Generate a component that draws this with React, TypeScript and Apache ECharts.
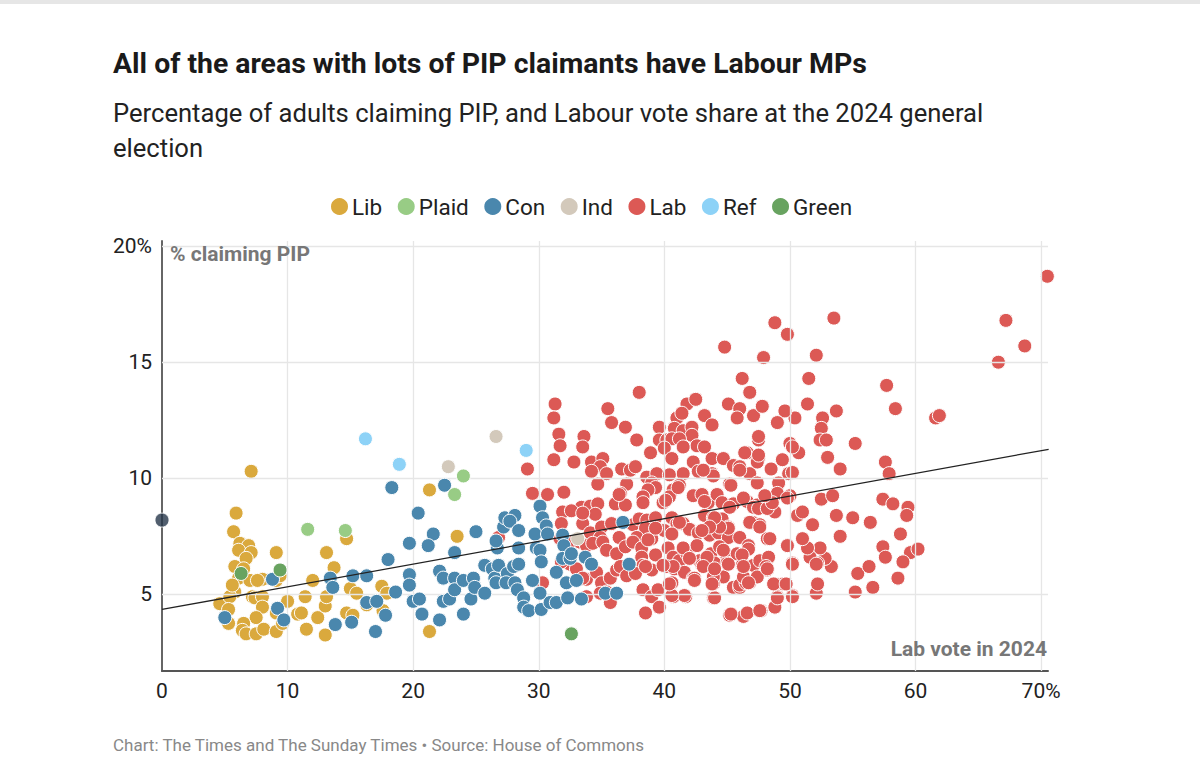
import React, { useEffect, useRef } from "react";
import * as echarts from "echarts";

const TITLE = "All of the areas with lots of PIP claimants have Labour MPs";
const SUBTITLE = "Percentage of adults claiming PIP, and Labour vote share at the 2024 general\nelection";
const FOOTER = "Chart: The Times and The Sunday Times \u2022 Source: House of Commons";
const Y_NAME = "% claiming PIP";
const X_NAME = "Lab vote in 2024";

const LEGEND_ORDER = ["Lib", "Plaid", "Con", "Ind", "Lab", "Ref", "Green"];
const X_TICKS = [0, 10, 20, 30, 40, 50, 60, 70];
const Y_TICKS = [5, 10, 15, 20];
const GRID_X = [10, 20, 30, 40, 50, 60, 70];
const GRID_Y = [5, 10, 15, 20];

const TREND_X = [0, 70.6];
const TREND_Y = [4.35, 11.25];

const SPEAKER = [[0, 8.2]];

const LIB = [
  [7.1, 10.3], [5.9, 8.5], [5.7, 7.7], [6.2, 7.2], [6.9, 7.1], [6.1, 6.9], [7.1, 6.8], [6.7, 6.55],
  [9.1, 6.8], [5.8, 6.2], [6.5, 6.1], [6.1, 5.7], [7.0, 5.6], [8.0, 5.65], [5.8, 5.1], [4.6, 4.6],
  [5.4, 4.9], [5.3, 4.35], [5.3, 3.75], [7.2, 4.9], [7.4, 4.85], [8.0, 4.9], [8.0, 4.45], [7.5, 4.0],
  [6.5, 3.75], [6.4, 3.45], [6.7, 3.3], [7.5, 3.3], [8.1, 3.5], [9.1, 3.4], [9.1, 4.2], [9.6, 3.75],
  [10.0, 4.7], [10.8, 4.15], [11.1, 4.2], [11.4, 4.9], [11.5, 3.5], [12.0, 5.6], [12.4, 4.0], [13.0, 4.5],
  [13.1, 4.9], [13.1, 6.8], [13.7, 6.15], [13.0, 3.25], [14.7, 7.4], [15.0, 5.25], [15.5, 5.05], [14.7, 4.2],
  [15.2, 4.1], [17.5, 5.35], [17.9, 5.05], [16.3, 4.55], [17.6, 4.3], [9.1, 5.6], [21.3, 9.5], [23.5, 7.5],
  [21.3, 3.4], [9.4, 5.8], [5.6, 5.4], [7.6, 5.6],
];

const PLAID = [[11.6, 7.8], [14.6, 7.75], [24.0, 10.1], [23.3, 9.3]];
const GREEN = [[6.3, 5.9], [9.4, 6.05], [32.6, 3.3]];
const REF = [[16.2, 11.7], [18.9, 10.6], [29.0, 11.2]];
const IND = [[26.6, 11.8], [22.8, 10.5], [33.1, 7.4]];

const CON = [
  [5.0, 4.0], [8.8, 5.65], [9.2, 4.4], [9.7, 3.9], [13.4, 5.7], [13.6, 5.3], [13.8, 3.7], [15.1, 3.8],
  [15.2, 5.8], [16.3, 5.8], [16.3, 4.65], [17.1, 4.7], [17.8, 4.1], [17.0, 3.4], [18.0, 6.5], [18.3, 9.6],
  [18.6, 5.1], [20.4, 8.5], [22.5, 9.7], [21.6, 7.6], [21.2, 7.1], [19.7, 7.2], [19.7, 5.85], [19.7, 5.4],
  [20.0, 4.7], [20.5, 4.8], [20.7, 4.15], [22.1, 3.9], [22.4, 4.7], [22.9, 4.8], [22.1, 6.0], [22.4, 5.7],
  [23.3, 5.7], [23.3, 6.8], [23.3, 5.2], [24.0, 5.6], [24.0, 4.15], [24.6, 4.8], [24.8, 5.7], [24.9, 5.3],
  [25.0, 7.7], [25.7, 5.05], [25.7, 6.25], [26.3, 6.1], [26.5, 5.7], [26.6, 5.5], [26.8, 6.25], [26.7, 7.0],
  [26.6, 7.3], [27.2, 7.9], [27.3, 8.3], [28.1, 8.4], [27.7, 8.15], [27.5, 5.9], [27.4, 5.5], [28.0, 6.2],
  [28.1, 5.5], [28.3, 5.2], [28.4, 7.75], [28.4, 7.0], [28.4, 6.3], [28.8, 4.85], [28.8, 4.45], [29.2, 4.3],
  [29.5, 5.6], [29.7, 7.6], [29.8, 7.0], [30.1, 6.9], [30.2, 6.4], [30.1, 5.05], [30.2, 4.35], [30.1, 8.8],
  [30.3, 8.3], [30.6, 7.95], [30.7, 7.6], [30.9, 4.65], [31.4, 4.65], [31.4, 5.95], [31.9, 7.55], [32.0, 7.1],
  [32.2, 5.5], [32.3, 4.85], [31.9, 6.55], [32.5, 6.55], [32.6, 6.75], [33.0, 5.6], [33.4, 4.8], [33.7, 6.6],
  [34.2, 6.3], [35.3, 5.05], [36.2, 5.05], [36.7, 8.1], [37.2, 6.3],
];

const LAB = [
  [44.8, 15.65], [47.9, 15.2], [46.2, 14.3], [46.8, 13.7], [38.0, 13.7], [31.3, 13.2], [31.2, 12.6], [35.5, 13.0],
  [35.8, 12.4], [36.9, 12.2], [41.8, 13.2], [42.5, 13.4], [43.2, 12.7], [43.8, 12.3], [45.1, 13.2], [46.0, 13.0],
  [47.1, 12.7], [47.8, 13.1], [41.0, 12.6], [41.4, 12.8], [40.8, 12.15], [41.5, 12.05], [42.2, 12.2], [42.2, 11.85],
  [39.6, 12.2], [39.6, 11.65], [40.2, 11.65], [40.6, 11.7], [41.2, 11.7], [42.6, 11.4], [43.2, 11.35], [41.5, 11.35],
  [40.0, 11.3], [38.9, 11.1], [37.8, 11.65], [33.6, 11.8], [33.5, 11.35], [31.6, 11.9], [31.7, 11.4], [31.2, 10.8],
  [32.8, 10.7], [29.1, 10.4], [34.2, 10.7], [35.1, 10.85], [34.9, 10.5], [35.4, 10.2], [34.2, 10.3], [34.7, 9.75],
  [36.6, 10.4], [37.3, 10.35], [37.7, 10.5], [37.0, 9.75], [36.5, 9.35], [38.6, 10.05], [39.4, 10.2], [39.0, 9.8],
  [40.6, 10.85], [41.5, 10.2], [42.3, 10.7], [42.7, 10.3], [43.8, 10.85], [44.7, 10.85], [45.5, 10.55], [46.0, 10.5],
  [46.8, 10.2], [47.5, 10.85], [47.5, 11.65], [46.6, 11.1], [43.8, 10.2], [45.2, 9.75], [41.2, 9.7], [40.7, 9.5],
  [40.4, 9.2], [39.9, 8.95], [39.3, 9.6], [38.7, 9.5], [38.3, 9.2], [38.3, 8.95], [29.5, 9.35], [30.7, 9.3],
  [32.0, 9.4], [31.9, 8.55], [31.8, 8.05], [33.4, 8.75], [34.1, 8.8], [34.7, 8.9], [34.5, 8.45], [36.1, 8.9],
  [36.9, 8.85], [36.4, 9.3], [33.5, 8.05], [34.1, 7.65], [35.0, 7.9], [34.9, 7.45], [35.8, 8.05], [36.4, 7.45],
  [37.5, 8.0], [38.0, 8.25], [38.6, 8.2], [39.3, 8.3], [38.5, 7.85], [37.8, 7.45], [39.0, 7.4], [40.0, 7.75],
  [40.6, 8.3], [41.0, 8.05], [41.5, 8.05], [42.3, 9.25], [43.0, 9.3], [43.5, 8.95], [44.2, 9.3], [44.6, 8.95],
  [45.5, 8.9], [46.6, 9.0], [47.4, 8.85], [43.2, 8.4], [43.9, 8.3], [44.6, 8.25], [45.1, 7.9], [47.0, 8.1],
  [47.6, 8.0], [42.0, 7.8], [42.7, 7.65], [43.6, 7.55], [44.3, 7.65], [45.1, 7.45], [46.0, 7.45], [46.7, 7.1],
  [48.2, 7.4], [32.6, 8.6], [33.5, 8.5], [31.7, 7.4], [32.5, 7.25], [33.3, 7.25], [33.8, 7.1], [34.3, 7.2],
  [35.1, 7.25], [35.4, 6.9], [36.2, 6.75], [36.9, 7.05], [37.5, 7.25], [38.2, 7.0], [38.2, 6.6], [39.3, 6.7],
  [40.3, 7.0], [40.7, 6.6], [41.2, 6.45], [41.8, 6.75], [42.6, 7.1], [42.8, 6.45], [43.7, 6.75], [44.4, 7.05],
  [44.9, 6.75], [45.8, 6.75], [46.7, 6.95], [47.1, 6.25], [47.6, 6.45], [48.2, 6.05], [32.5, 6.3], [33.0, 6.1],
  [33.8, 5.65], [34.6, 5.95], [35.0, 5.5], [35.7, 5.7], [36.2, 6.05], [36.5, 6.2], [37.0, 5.8], [34.9, 5.05],
  [35.7, 4.65], [38.3, 6.25], [37.7, 5.9], [39.0, 6.05], [40.2, 6.2], [40.8, 6.1], [40.6, 5.5], [41.6, 5.95],
  [42.3, 5.7], [43.0, 6.25], [43.8, 5.5], [44.7, 5.75], [45.5, 5.3], [46.0, 5.3], [46.8, 5.5], [47.4, 5.75],
  [38.3, 5.2], [39.0, 4.9], [39.5, 5.2], [39.6, 4.45], [38.5, 4.2], [40.7, 4.9], [41.7, 4.9], [43.9, 4.85],
  [45.2, 4.1], [46.3, 4.05], [47.7, 4.3], [35.4, 5.1], [26.8, 7.45], [30.3, 5.5], [31.8, 6.4], [33.5, 5.7],
  [33.8, 4.9], [53.5, 16.9], [48.8, 16.7], [49.8, 16.2], [52.1, 15.3], [51.5, 14.3], [57.7, 14.0], [58.4, 13.0],
  [51.4, 13.2], [53.7, 12.9], [52.6, 12.6], [52.5, 12.15], [52.4, 11.65], [52.9, 11.65], [50.4, 12.6], [49.6, 12.9],
  [49.0, 12.4], [45.8, 12.6], [47.5, 11.8], [50.0, 11.5], [50.7, 11.1], [50.2, 11.35], [53.0, 10.9], [55.2, 11.5],
  [54.0, 10.4], [57.6, 10.7], [57.9, 10.2], [46.4, 11.1], [47.4, 10.7], [48.5, 10.4], [49.4, 10.8], [49.1, 9.8],
  [49.9, 10.2], [50.2, 10.25], [49.0, 9.35], [50.0, 9.25], [52.5, 9.1], [53.4, 9.25], [51.8, 8.0], [53.7, 8.4],
  [54.0, 7.5], [55.0, 8.3], [56.4, 8.1], [57.4, 9.1], [58.2, 8.9], [59.4, 8.75], [59.3, 8.4], [58.8, 7.6],
  [59.6, 6.8], [60.2, 6.95], [57.4, 7.05], [57.6, 6.6], [59.0, 6.4], [58.6, 5.7], [56.6, 5.3], [55.4, 5.9],
  [56.3, 6.2], [55.2, 5.1], [52.1, 5.05], [52.2, 5.45], [53.3, 6.2], [52.8, 6.55], [52.2, 6.35], [52.4, 7.0],
  [51.6, 6.6], [51.4, 7.0], [51.0, 7.4], [50.2, 6.35], [50.2, 4.95], [49.5, 5.45], [48.8, 5.45], [49.0, 4.9],
  [48.8, 4.45], [49.8, 7.1], [48.4, 7.4], [48.3, 6.6], [48.1, 6.2], [48.8, 8.55], [50.6, 8.4], [51.0, 8.55],
  [49.8, 9.15], [44.0, 4.85], [46.0, 5.4], [46.5, 5.5], [41.6, 4.95], [40.6, 4.95], [40.4, 5.45], [42.4, 5.7],
  [43.9, 5.45], [44.0, 6.35], [45.0, 6.35], [46.2, 6.25], [46.2, 6.7], [44.7, 6.9], [45.1, 7.85], [44.4, 7.9],
  [46.8, 8.1], [47.6, 7.9], [45.2, 8.75], [43.2, 9.0], [46.3, 9.15], [47.1, 8.75], [47.5, 8.7], [48.2, 8.7],
  [48.6, 8.95], [45.3, 9.7], [47.4, 9.8], [48.0, 9.25], [47.5, 11.0], [46.0, 10.35], [43.9, 10.1], [43.1, 10.35],
  [40.4, 10.15], [40.1, 9.05], [41.1, 9.6], [44.0, 8.3], [43.6, 7.9], [43.0, 7.75], [41.2, 8.1], [40.6, 7.6],
  [39.3, 7.85], [38.7, 7.35], [41.5, 7.0], [42.0, 6.55], [40.7, 6.2], [39.9, 6.25], [38.5, 6.2], [42.4, 5.6],
  [43.4, 6.6], [43.1, 6.2], [46.3, 5.75], [43.9, 5.75], [70.5, 18.7], [67.2, 16.8], [68.7, 15.7], [66.6, 15.0],
  [61.6, 12.6], [61.9, 12.7], [45.3, 4.15], [46.6, 4.2], [47.6, 4.3], [46.7, 5.5], [48.7, 5.45], [49.7, 5.45],
  [50.2, 4.9], [49.0, 4.85], [43.8, 5.45], [44.0, 6.1], [46.3, 6.2], [45.1, 6.3], [48.2, 6.1], [50.2, 6.3],
  [52.1, 6.3],
];

const COLORS: Record<string, string> = {
  Lib: "#daa93d",
  Plaid: "#98cc85",
  Con: "#4a87ad",
  Ind: "#d3c9bb",
  Lab: "#dc5955",
  Ref: "#8dd2f7",
  Green: "#68a360",
  Speaker: "#25364a",
};

const FONT = "Roboto, 'Noto Sans', sans-serif";

function scatter(name: string, data: number[][], z = 3) {
  return {
    name,
    type: "scatter",
    data,
    symbol: "circle",
    symbolSize: 14,
    z,
    itemStyle: { color: COLORS[name], borderColor: "#ffffff", borderWidth: 1, opacity: 1 },
    emphasis: { disabled: true },
  };
}

export default function App() {
  const ref = useRef<HTMLDivElement>(null);
  useEffect(() => {
    if (!ref.current) return;
    const chart = echarts.init(ref.current, null, { renderer: "svg" });
    const gridMarks = [
      ...GRID_X.map((v) => ({ xAxis: v })),
      ...GRID_Y.map((v) => ({ yAxis: v })),
    ];
    chart.setOption({
      animation: false,
      backgroundColor: "#ffffff",
      textStyle: { fontFamily: FONT },
      grid: { left: 162, right: 152, top: 241, bottom: 112, containLabel: false },
      legend: {
        data: LEGEND_ORDER,
        left: 324,
        top: 190,
        icon: "circle",
        itemWidth: 19,
        itemHeight: 19,
        itemGap: 13.5,
        textStyle: { fontSize: 22.5, color: "#222222", fontFamily: FONT, padding: [0, 0, 0, -2] },
        selectedMode: false,
      },
      xAxis: {
        type: "value",
        min: 0,
        max: 70.55,
        axisLine: { show: true, onZero: false, lineStyle: { color: "#555555", width: 2 } },
        axisTick: { show: false },
        splitLine: { show: false },
        axisLabel: {
          customValues: X_TICKS,
          fontSize: 21,
          color: "#222222",
          margin: 9,
          fontFamily: FONT,
          formatter: (v: number) => (v === 70 ? "70%" : String(v)),
        },
      },
      yAxis: {
        type: "value",
        min: 1.7,
        max: 20.22,
        axisLine: { show: true, onZero: false, lineStyle: { color: "#666666", width: 2 } },
        axisTick: { show: false },
        splitLine: { show: false },
        axisLabel: {
          customValues: Y_TICKS,
          fontSize: 21,
          color: "#222222",
          margin: 10,
          fontFamily: FONT,
          formatter: (v: number) => (v === 20 ? "20%" : String(v)),
        },
      },
      series: [
        {
          name: "grid",
          type: "scatter",
          data: [],
          z: 1,
          silent: true,
          markLine: {
            silent: true,
            symbol: ["none", "none"],
            label: { show: false },
            lineStyle: { color: "#e6e6e6", width: 1.3, type: "solid" },
            emphasis: { disabled: true },
            data: gridMarks,
          },
        },
        scatter("Lab", LAB, 3),
        scatter("Lib", LIB, 4),
        scatter("Con", CON, 5),
        scatter("Ind", IND, 6),
        scatter("Ref", REF, 6),
        scatter("Plaid", PLAID, 6),
        scatter("Green", GREEN, 6),
        {
          name: "Speaker",
          type: "scatter",
          data: SPEAKER,
          symbolSize: 14,
          z: 7,
          itemStyle: { color: COLORS.Speaker, borderColor: "#ffffff", borderWidth: 1 },
        },
        {
          name: "trend",
          type: "line",
          data: TREND_X.map((x, i) => [x, TREND_Y[i]]),
          symbol: "none",
          z: 8,
          silent: true,
          lineStyle: { color: "#222222", width: 1.3 },
        },
      ],
      graphic: [
        {
          type: "rect",
          shape: { x: 0, y: 0, width: 1200, height: 4 },
          style: { fill: "#e6e6e6" },
        },
        {
          type: "text",
          x: 113,
          y: 63,
          style: {
            text: TITLE,
            fill: "#1a1a1a",
            fontSize: 28.4,
            fontWeight: "bold",
            fontFamily: FONT,
            verticalAlign: "middle",
          },
        },
        {
          type: "text",
          x: 113,
          y: 95.5,
          style: {
            text: SUBTITLE,
            fill: "#222222",
            fontSize: 25.6,
            lineHeight: 35,
            fontFamily: FONT,
            verticalAlign: "top",
          },
        },
        {
          type: "text",
          x: 170,
          y: 254,
          z: 20,
          style: {
            text: Y_NAME,
            fill: "#777777",
            fontSize: 21,
            fontWeight: "bold",
            fontFamily: FONT,
            verticalAlign: "middle",
          },
        },
        {
          type: "text",
          x: 1047,
          y: 649,
          z: 20,
          style: {
            text: X_NAME,
            fill: "#777777",
            fontSize: 21,
            fontWeight: "bold",
            fontFamily: FONT,
            align: "right",
            verticalAlign: "middle",
          },
        },
        {
          type: "text",
          x: 113,
          y: 745,
          style: {
            text: FOOTER,
            fill: "#888888",
            fontSize: 17,
            fontFamily: FONT,
            verticalAlign: "middle",
          },
        },
      ],
    });
    return () => chart.dispose();
  }, []);
  return (
    <div
      ref={ref}
      style={{ position: "absolute", left: 0, top: 0, width: 1200, height: 783, background: "#fff" }}
    />
  );
}
